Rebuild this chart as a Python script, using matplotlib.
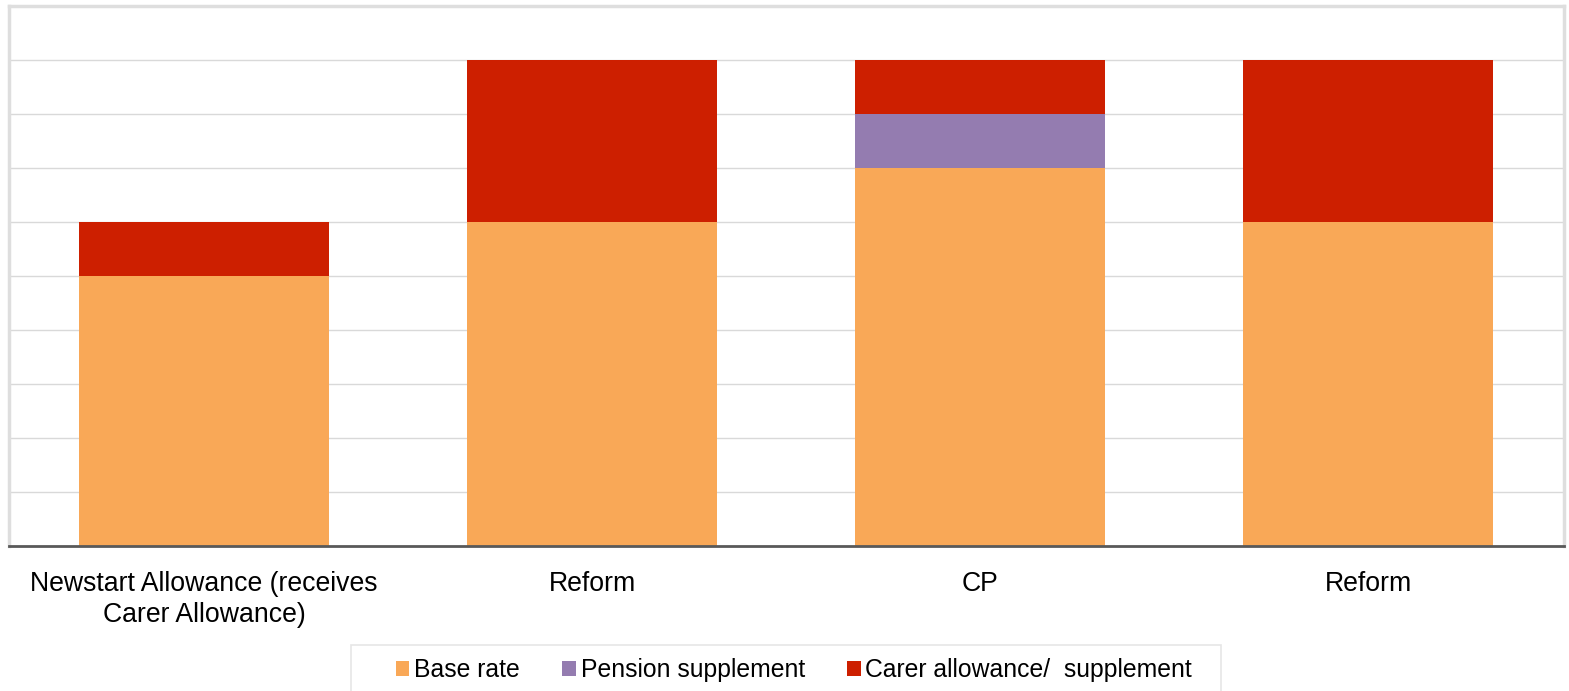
import matplotlib.pyplot as plt
from matplotlib.patches import Rectangle
import numpy as np

plt.rcParams['font.family'] = ['Liberation Sans', 'DejaVu Sans']

categories = ['Newstart Allowance (receives\nCarer Allowance)', 'Reform', 'CP', 'Reform']
base_rate = [5, 6, 7, 6]
pension_supplement = [0, 0, 1, 0]
carer_supplement = [1, 3, 1, 3]

colors = {'base': '#F9A857', 'pension': '#947CB0', 'carer': '#CD1F00'}

W, H = 1569, 691
fig = plt.figure(figsize=(W / 100, H / 100), dpi=100)
ax = fig.add_axes([9 / W, 145 / H, 1555 / W, 540 / H])

x = np.arange(len(categories))
w = 0.644
base = np.array(base_rate)
pens = np.array(pension_supplement)
carer = np.array(carer_supplement)

ax.bar(x, base, w, color=colors['base'], label='Base rate', zorder=2)
ax.bar(x, pens, w, bottom=base, color=colors['pension'], label='Pension supplement', zorder=2)
ax.bar(x, carer, w, bottom=base + pens, color=colors['carer'],
       label='Carer allowance/  supplement', zorder=2)

ax.set_xlim(-0.503, 3.505)
ax.set_ylim(0, 10)
ax.set_yticks(np.arange(1, 10))
ax.yaxis.grid(True, color='#d9d9d9', linewidth=1, zorder=0)
ax.tick_params(axis='y', left=False, labelleft=False)
ax.tick_params(axis='x', length=0, pad=18, labelsize=19.2)
ax.set_xticks(x)
ax.set_xticklabels(categories, linespacing=1.25)

for side in ['left', 'right', 'top']:
    ax.spines[side].set_color('#dedede')
    ax.spines[side].set_linewidth(2.5)
ax.spines['bottom'].set_color('#595959')
ax.spines['bottom'].set_linewidth(2)

# legend box runs off the bottom edge, so draw the frame by hand
fig.patches.append(Rectangle((351 / W, -10 / H), 870 / W, (46 + 10) / H,
                             transform=fig.transFigure, facecolor='white',
                             edgecolor='#e6e6e6', linewidth=1.2, zorder=0))
fig.legend(loc='center', bbox_to_anchor=(794 / W, 1 - 670 / H),
           ncol=3, fontsize=17.8, frameon=False,
           handlelength=0.55, handleheight=0.55, handletextpad=0.2,
           columnspacing=1.7, borderpad=0, borderaxespad=0)

fig.savefig('out.png', dpi=100)
